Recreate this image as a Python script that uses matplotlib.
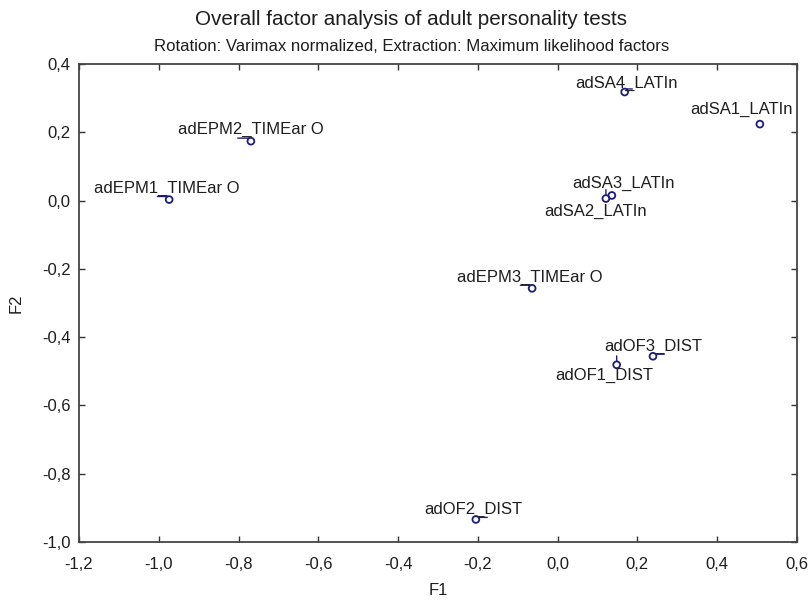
import matplotlib
matplotlib.use("Agg")
import matplotlib.pyplot as plt
from matplotlib.ticker import FuncFormatter, MultipleLocator
from matplotlib.transforms import offset_copy

plt.rcParams['font.family'] = ['Liberation Sans', 'DejaVu Sans']

labels = ["adSA4_LATIn", "adSA1_LATIn", "adEPM2_TIMEar O", "adEPM1_TIMEar O",
          "adSA3_LATIn", "adSA2_LATIn", "adEPM3_TIMEar O", "adOF3_DIST",
          "adOF1_DIST", "adOF2_DIST"]
f1 = [0.168, 0.507, -0.769, -0.974, 0.136, 0.121, -0.064, 0.239, 0.148, -0.205]
f2 = [0.318, 0.224, 0.174, 0.003, 0.015, 0.006, -0.257, -0.456, -0.481, -0.934]

# label offsets in points (dx, dy) relative to each point
offsets = [(1.4, 6.5), (-13, 10.8), (0, 8.6), (-1.4, 7.9), (8.6, 8.6), (-7.2, -9.4),
           (-1.4, 7.9), (0, 7.2), (-8.6, -7.9), (-2.2, 7.2)]
# short leader lines: start (sx, sy) and length (lx, ly) in points, relative to marker
leaders = [((1.5, 2.2), (4, 0)), None, ((-1.5, 2.2), (-8, 0)), ((-1.5, 2.2), (-7, 0)), None,
           ((0, 2.4), (0, 4)), ((-1.5, 2.2), (-7, 0)), ((2.2, 1.5), (6, 0)), ((0, 2.4), (0, 4)),
           ((2.2, 1.5), (6, 0))]

navy = '#1c1c7a'
fig = plt.figure(figsize=(8.11, 6.0), dpi=100)
ax = fig.add_axes([0.0974, 0.0967, 0.8853, 0.7966])

ax.scatter(f1, f2, s=24, facecolors='none', edgecolors=navy, linewidths=1.3, zorder=3)
for lab, x, y, (dx, dy), ld in zip(labels, f1, f2, offsets, leaders):
    ax.annotate(lab, (x, y), xytext=(dx, dy), textcoords='offset points',
                ha='center', va='center', fontsize=12, color='#1e1e1e')
    if ld is not None:
        (sx, sy), (lx, ly) = ld
        tr = offset_copy(ax.transData, fig=fig, x=sx, y=sy, units='points')
        ax.annotate('', xy=(x, y), xycoords=tr, xytext=(lx, ly), textcoords='offset points',
                    arrowprops=dict(arrowstyle='-', color=navy, lw=1.0, shrinkA=0, shrinkB=0))

ax.set_xlim(-1.2, 0.6)
ax.set_ylim(-1.0, 0.4)
ax.xaxis.set_major_locator(MultipleLocator(0.2))
ax.yaxis.set_major_locator(MultipleLocator(0.2))
fmt = FuncFormatter(lambda v, p: f"{v:.1f}".replace('.', ',').replace('-0,0', '0,0'))
ax.xaxis.set_major_formatter(fmt)
ax.yaxis.set_major_formatter(fmt)
ax.tick_params(direction='in', top=True, right=True, length=4, width=1, labelsize=12,
               colors='#333333', labelcolor='#1e1e1e')
ax.tick_params(axis='x', pad=11)
ax.tick_params(axis='y', pad=6)
for s in ax.spines.values():
    s.set_color('#444444')
    s.set_linewidth(1.3)

ax.set_xlabel("F1", fontsize=12, color='#1e1e1e', labelpad=8)
ax.set_ylabel("F2", fontsize=12, color='#1e1e1e', labelpad=13)

fig.text(0.507, 0.968, "Overall factor analysis of adult personality tests",
         ha='center', va='center', fontsize=14.9, color='#1e1e1e')
fig.text(0.507, 0.923, "Rotation: Varimax normalized, Extraction: Maximum likelihood factors",
         ha='center', va='center', fontsize=12.1, color='#1e1e1e')

fig.savefig("out.png", dpi=100)
